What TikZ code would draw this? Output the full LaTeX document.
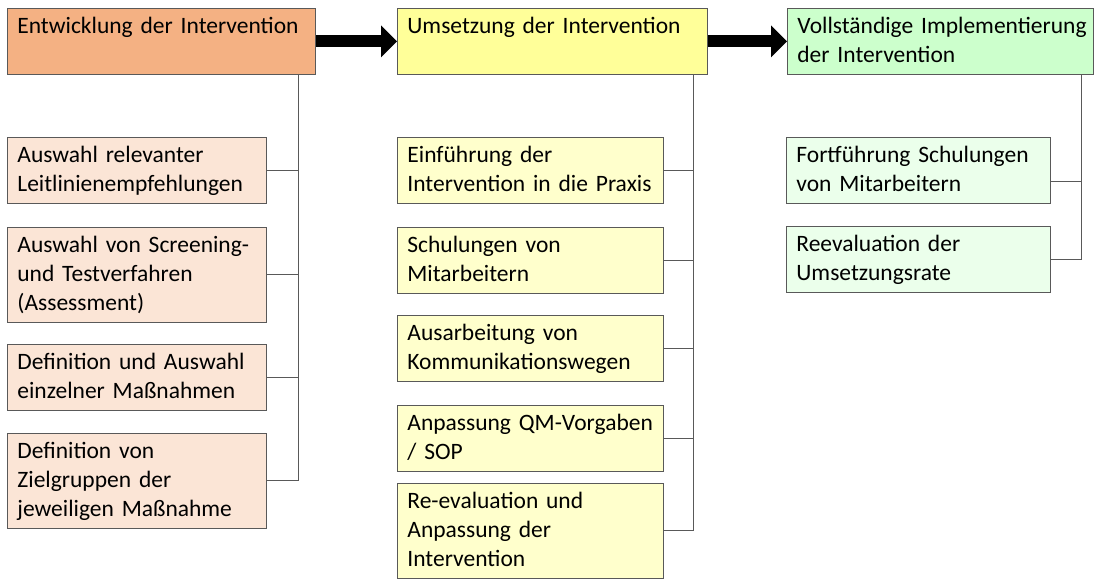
\documentclass[tikz,border=0pt]{standalone}
\usepackage{fontspec}
\setmainfont{Carlito}[WordSpace=0.65]
\usepackage{tikz}
\usetikzlibrary{arrows.meta}
\usetikzlibrary{positioning}

\definecolor{orangehead}{HTML}{F4B183}
\definecolor{orangebox}{HTML}{FBE5D6}
\definecolor{yellowhead}{HTML}{FFFF99}
\definecolor{yellowbox}{HTML}{FFFFCC}
\definecolor{greenhead}{HTML}{CCFFCC}
\definecolor{greenbox}{HTML}{EBFFEB}
\definecolor{rim}{HTML}{595959}

\newcommand{\cellstrut}{\rule[-7.5pt]{0pt}{29pt}}

\begin{document}
\begin{tikzpicture}[x=1pt,y=-1pt,
        box/.style={draw=rim,line width=0.8pt,anchor=north west,align=left,
            inner xsep=10pt,inner ysep=4pt,
            font=\fontsize{23.5}{29}\selectfont,
            execute at begin node=\cellstrut,execute at end node=\cellstrut},
        headbox/.style={box,text depth=36.5pt},
        link/.style={draw=rim,line width=0.9pt},
        blockarrow/.style={line width=12pt,-{Triangle[length=16pt,width=31pt]}}]

    \useasboundingbox (0,0) rectangle (1094,579);

    % headers
    \node[headbox,fill=orangehead,text width=288pt] (h1) at (7,8) {\mbox{Entwicklung der Intervention}};
    \node[headbox,fill=yellowhead,text width=290pt] (h2) at (397,8) {\mbox{Umsetzung der Intervention}};
    \node[headbox,fill=greenhead,text width=286pt] (h3) at (787,8) {\mbox{Vollständige Implementierung}\\der Intervention};

    \draw[blockarrow] (h1.east) -- (h2.west);
    \draw[blockarrow] (h2.east) -- (h3.west);

    % column 1
    \node[box,fill=orangebox,text width=239pt] (a1) at (7,137) {Auswahl relevanter\\Leitlinienempfehlungen};
    \node[box,fill=orangebox,text width=239pt] (a2) at (7,227) {\mbox{Auswahl von Screening-}\\und Testverfahren\\(Assessment)};
    \node[box,fill=orangebox,text width=239pt] (a3) at (7,344) {\mbox{Definition und Auswahl}\\einzelner Maßnahmen};
    \node[box,fill=orangebox,text width=239pt] (a4) at (7,433) {Definition von\\Zielgruppen der\\\mbox{jeweiligen Maßnahme}};

    % column 2
    \node[box,fill=yellowbox,text width=246pt] (b1) at (397,137) {Einführung der\\\mbox{Intervention in die Praxis}};
    \node[box,fill=yellowbox,text width=246pt] (b2) at (397,227) {Schulungen von\\Mitarbeitern};
    \node[box,fill=yellowbox,text width=246pt] (b3) at (397,315) {Ausarbeitung von\\Kommunikationswegen};
    \node[box,fill=yellowbox,text width=246pt] (b4) at (397,405) {\mbox{Anpassung QM-Vorgaben}\\/ SOP};
    \node[box,fill=yellowbox,text width=246pt] (b5) at (397,483) {Re-evaluation und\\Anpassung der\\Intervention};

    % column 3
    \node[box,fill=greenbox,text width=244pt] (c1) at (786,137) {\mbox{Fortführung Schulungen}\\von Mitarbeitern};
    \node[box,fill=greenbox,text width=244pt] (c2) at (786,226) {Reevaluation der\\Umsetzungsrate};

    % trunks
    \coordinate (t1) at (298,0);
    \coordinate (t2) at (693,0);
    \coordinate (t3) at (1081,0);

    \draw[link] (h1.south -| t1) |- (a4.east);
    \foreach \n in {a1,a2,a3}
    \draw[link] (\n.east) -- (\n.east -| t1);

    \draw[link] (h2.south -| t2) |- (b5.east);
    \foreach \n in {b1,b2,b3,b4}
    \draw[link] (\n.east) -- (\n.east -| t2);

    \draw[link] (h3.south -| t3) |- (c2.east);
    \draw[link] ([yshift=-11pt]c1.east) -- ([yshift=-11pt]c1.east -| t3);
\end{tikzpicture}
\end{document}
